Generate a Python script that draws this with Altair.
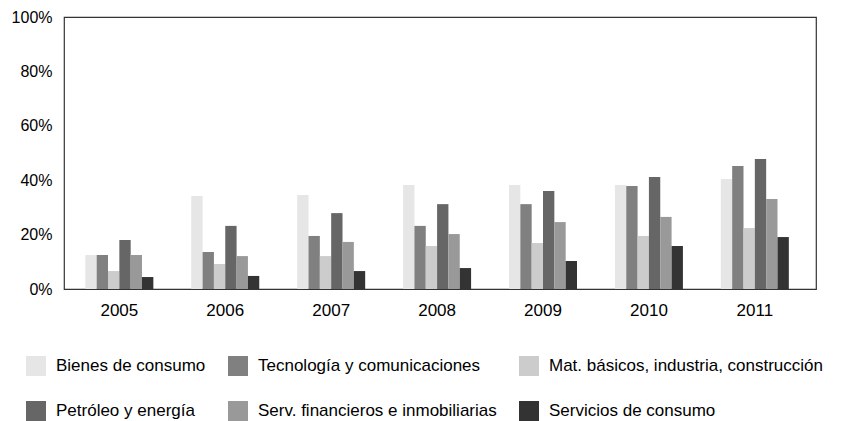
import altair as alt
import pandas as pd

years = ["2005", "2006", "2007", "2008", "2009", "2010", "2011"]
series = [
    "Bienes de consumo",
    "Tecnología y comunicaciones",
    "Mat. básicos, industria, construcción",
    "Petróleo y energía",
    "Serv. financieros e inmobiliarias",
    "Servicios de consumo",
]
colors = ["#e6e6e6", "#808080", "#cccccc", "#666666", "#999999", "#333333"]

bienes = [12.5, 34.2, 34.6, 38.2, 38.2, 38.2, 40.4]
tecnologia = [12.5, 13.6, 19.5, 23.2, 31.2, 37.9, 45.2]
materiales = [6.6, 9.2, 12.1, 15.8, 16.9, 19.5, 22.4]
petroleo = [18.0, 23.2, 27.9, 31.2, 36.0, 41.2, 47.8]
financieros = [12.5, 12.1, 17.3, 20.2, 24.6, 26.5, 33.1]
servicios = [4.4, 4.8, 6.6, 7.7, 10.3, 15.8, 19.1]

values = [bienes, tecnologia, materiales, petroleo, financieros, servicios]

rows = []
for s, vals in zip(series, values):
    for y, v in zip(years, vals):
        rows.append({"year": y, "serie": s, "valor": v / 100.0})
df = pd.DataFrame(rows)

# legend is laid out column by column (2 rows x 3 columns)
legend_order = [0, 3, 1, 4, 2, 5]
legend_domain = [series[i] for i in legend_order]
legend_range = [colors[i] for i in legend_order]

chart = (
    alt.Chart(df)
    .mark_bar()
    .encode(
        x=alt.X(
            "year:N",
            sort=years,
            title=None,
            scale=alt.Scale(paddingInner=0.358, paddingOuter=0.229, align=0.44),
            axis=alt.Axis(
                labelAngle=0,
                labelFontSize=17,
                labelFont="Liberation Sans",
                labelColor="#000",
                labelPadding=13,
                ticks=False,
                domain=False,
            ),
        ),
        xOffset=alt.XOffset("serie:N", sort=series, scale=alt.Scale(paddingInner=0, paddingOuter=0)),
        y=alt.Y(
            "valor:Q",
            title=None,
            scale=alt.Scale(domain=[0, 1], nice=False),
            axis=alt.Axis(
                values=[0, 0.2, 0.4, 0.6, 0.8, 1.0],
                format=".0%",
                labelFontSize=16,
                labelFont="Liberation Sans",
                labelColor="#000",
                labelPadding=12,
                ticks=False,
                domain=False,
                grid=False,
                minExtent=56,
                maxExtent=56,
            ),
        ),
        color=alt.Color(
            "serie:N",
            scale=alt.Scale(domain=legend_domain, range=legend_range),
            legend=alt.Legend(
                title=None,
                orient="none",
                legendX=-38,
                legendY=339,
                columns=3,
                symbolType="square",
                symbolSize=400,
                symbolStrokeWidth=0,
                symbolOpacity=1,
                labelFontSize=17,
                labelFont="Liberation Sans",
                labelColor="#000",
                labelOffset=10,
                labelLimit=400,
                columnPadding=22,
                rowPadding=25,
                padding=0,
            ),
        ),
    )
    .properties(
        width=752,
        height=272,
        padding={"left": 0, "top": 1, "right": 0, "bottom": 0},
    )
    .configure_view(stroke="#333333", strokeWidth=1.2)
)

chart.save("out.html", embed_options={"renderer": "svg", "actions": False})
